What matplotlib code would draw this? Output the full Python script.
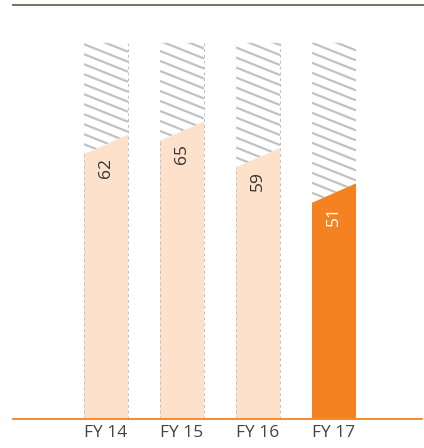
import matplotlib
matplotlib.use("Agg")
import matplotlib.pyplot as plt
import numpy as np
from matplotlib.patches import Polygon
from matplotlib.collections import LineCollection
from matplotlib.lines import Line2D

categories = ["FY 14", "FY 15", "FY 16", "FY 17"]
values = [62, 65, 59, 51]
total = [85, 85, 85, 85]
highlight = [False, False, False, True]

W, H = 424, 448
fig = plt.figure(figsize=(W / 100, H / 100), dpi=100)
plt.rcParams['font.family'] = ['Open Sans', 'DejaVu Sans']

ax_left, ax_right = 13, 422
ax_top, ax_bottom = 5, 418.5
ax = fig.add_axes([ax_left / W, 1 - ax_bottom / H, (ax_right - ax_left) / W, (ax_bottom - ax_top) / H])

pitch = 76.0
x0px = 106.0
xmin = (ax_left - x0px) / pitch
xmax = (ax_right - x0px) / pitch
ppu_y = 4.42
ymax = (ax_bottom - ax_top) / ppu_y
ax.set_xlim(xmin, xmax)
ax.set_ylim(0, ymax)

bw = 44 / pitch
d = 2.2  # half slant in value units
light = "#fde1ca"
orange = "#f58220"
hatch_col = "#c2c2c2"

slope = -0.4 * pitch / ppu_y  # data units per x unit
spacing = 10 / ppu_y

for i, (v, t, hl) in enumerate(zip(values, total, highlight)):
    xl, xr = i - bw / 2, i + bw / 2
    fill = Polygon([(xl, 0), (xr, 0), (xr, v + d), (xl, v - d)], closed=True,
                   facecolor=orange if hl else light, edgecolor="none", zorder=2)
    ax.add_patch(fill)
    hpoly = Polygon([(xl, v - d), (xr, v + d), (xr, t), (xl, t)], closed=True,
                    facecolor="none", edgecolor="none")
    ax.add_patch(hpoly)
    segs = []
    c = v - d - 2 * spacing
    while c < t + abs(slope) * bw + spacing:
        segs.append([(xl, c), (xr, c + slope * bw)])
        c += spacing
    lc = LineCollection(segs, colors=hatch_col, linewidths=1.6, zorder=1)
    lc.set_clip_path(hpoly)
    ax.add_collection(lc)
    if not hl:
        ax.add_line(Line2D([xl, xl], [0, v - d], color="#c0c0c0", lw=0.7,
                           ls=(0, (3, 3)), zorder=3))
        ax.add_line(Line2D([xr, xr], [0, t], color="#c0c0c0", lw=0.7,
                           ls=(0, (3, 3)), zorder=3))
    ax.text(i, v - 3.0, str(v), rotation=90, ha="center", va="top",
            fontsize=12.5, color="white" if hl else "#333333", zorder=4)

ax.set_xticks(range(len(categories)))
ax.set_xticklabels(categories, fontsize=12.5, color="#444444")
ax.tick_params(axis="x", length=0, pad=5)
ax.set_yticks([])
for s in ["top", "left", "right"]:
    ax.spines[s].set_visible(False)
ax.spines["bottom"].set_color(orange)
ax.spines["bottom"].set_linewidth(1.3)
ax.spines["bottom"].set_zorder(5)

fig.add_artist(Line2D([13 / W, 1.0], [1 - 5.5 / H, 1 - 5.5 / H], color="#7a7060", lw=1.4,
                      transform=fig.transFigure))

fig.savefig("out.png", dpi=100)
